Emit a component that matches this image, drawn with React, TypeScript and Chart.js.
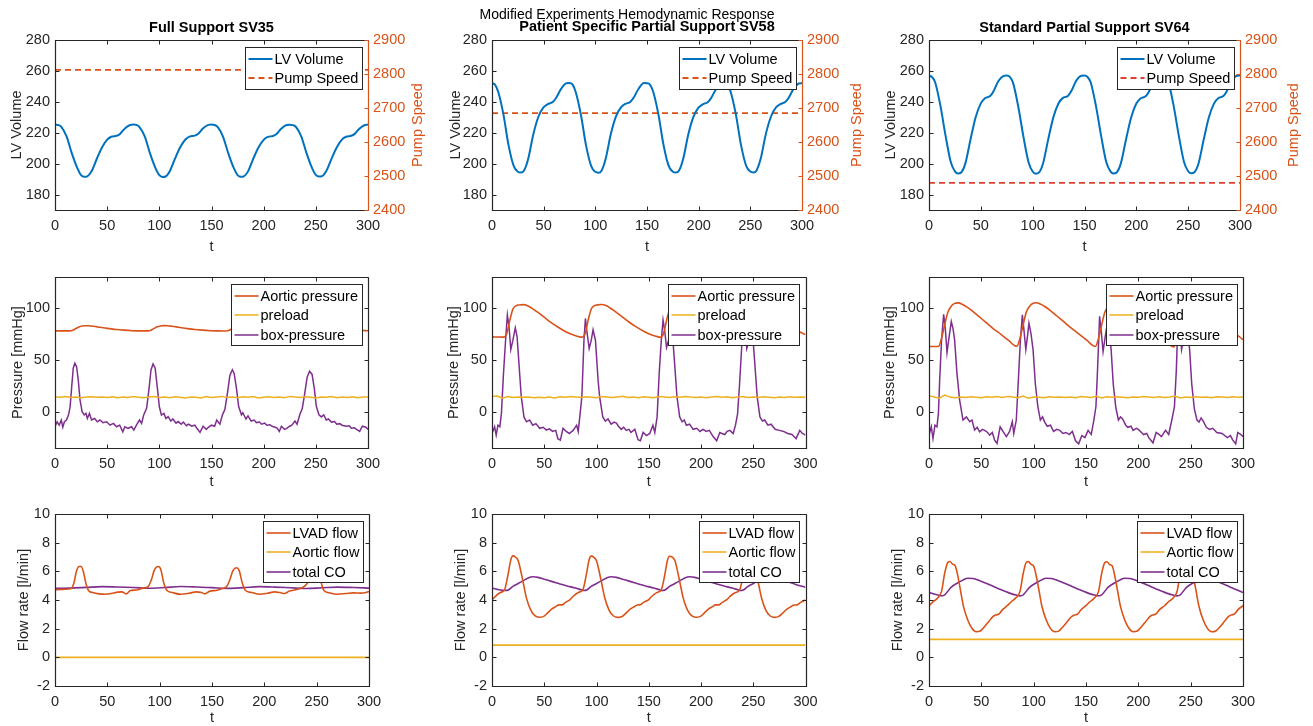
import React, { useEffect, useRef } from 'react';
import { Chart, registerables } from 'chart.js';

Chart.register(...registerables);

// ---------------- DATA ----------------
const X_TICKS = [0, 50, 100, 150, 200, 250, 300];
const LV_TICKS = [180, 200, 220, 240, 260, 280];
const PUMP_TICKS = [2400, 2500, 2600, 2700, 2800, 2900];
const PRESSURE_TICKS = [0, 50, 100];
const FLOW_TICKS = [-2, 0, 2, 4, 6, 8, 10];

const COLUMN_TITLES = ['Full Support SV35', 'Patient Specific Partial Support SV58', 'Standard Partial Support SV64'];
const SUPTITLE = 'Modified Experiments Hemodynamic Response';

// LV volume (shared time grid)
const T_LV = [
  0, 3, 6, 11, 16, 21, 25, 28, 31, 35, 40, 45, 50, 54, 59, 62, 67, 72,
  75, 78, 81, 86, 91, 96, 100, 103, 106, 110, 115, 120, 125, 129, 134, 137, 142, 147,
  150, 153, 156, 161, 166, 171, 175, 178, 181, 185, 190, 195, 200, 204, 209, 212, 217, 222,
  225, 228, 231, 236, 241, 246, 250, 253, 256, 260, 265, 270, 275, 279, 284, 287, 292, 297,
  300,
];
const LV_SV35 = [
  225.3, 225.0, 223.8, 217.8, 207.0, 197.8, 192.6, 191.5, 191.8, 195.0, 203.0, 210.5, 215.5, 217.4, 218.0, 219.0, 222.8, 225.0,
  225.4, 225.1, 223.7, 217.6, 206.8, 197.6, 192.5, 191.4, 191.7, 195.1, 203.2, 210.6, 215.6, 217.5, 218.1, 219.2, 222.9, 225.1,
  225.3, 225.0, 223.6, 217.5, 206.9, 197.7, 192.6, 191.5, 191.8, 195.0, 203.1, 210.4, 215.4, 217.3, 217.9, 219.0, 222.7, 225.0,
  225.2, 224.9, 223.7, 217.7, 207.0, 197.8, 192.7, 191.6, 191.9, 195.2, 203.1, 210.5, 215.5, 217.4, 218.0, 219.1, 222.8, 225.0,
  225.3,
];
const LV_SV58 = [
  252.0, 251.0, 246.5, 232.0, 212.0, 198.5, 194.8, 194.2, 195.5, 203.0, 219.0, 230.5, 236.5, 238.5, 240.0, 242.5, 248.5, 252.0,
  252.1, 251.1, 246.4, 231.8, 211.8, 198.4, 194.7, 194.1, 195.4, 203.1, 219.2, 230.6, 236.6, 238.6, 240.1, 242.6, 248.6, 252.1,
  252.0, 251.0, 246.5, 232.0, 212.1, 198.5, 194.8, 194.2, 195.5, 203.0, 219.0, 230.4, 236.4, 238.4, 239.9, 242.4, 248.4, 252.0,
  251.9, 250.9, 246.4, 231.9, 212.0, 198.6, 194.9, 194.3, 195.6, 203.1, 219.1, 230.5, 236.5, 238.5, 240.0, 242.5, 248.5, 251.9,
  252.1,
];
const LV_SV64 = [
  257.0, 256.0, 252.5, 237.5, 218.0, 201.0, 195.0, 193.6, 194.3, 200.0, 215.5, 230.0, 239.0, 242.3, 243.7, 246.5, 253.5, 256.8,
  257.1, 256.1, 252.4, 237.3, 217.8, 200.9, 194.9, 193.5, 194.2, 200.1, 215.7, 230.1, 239.1, 242.4, 243.8, 246.6, 253.6, 256.9,
  257.0, 256.0, 252.5, 237.5, 218.1, 201.0, 195.0, 193.6, 194.3, 200.0, 215.5, 229.9, 238.9, 242.2, 243.6, 246.4, 253.4, 256.8,
  256.9, 255.9, 252.4, 237.4, 218.0, 201.1, 195.1, 193.7, 194.4, 200.1, 215.6, 230.0, 239.0, 242.3, 243.7, 246.5, 253.5, 256.9,
  257.0,
];
const T_PUMP = [0, 300];
const PUMP_SV35 = [2812, 2812];
const PUMP_SV58 = [2685, 2685];
const PUMP_SV64 = [2480, 2480];

// Aortic pressure
const T_AO_SV35 = [
  0,
  14, 17, 20, 23, 26, 29, 33, 37, 41, 46, 52, 59, 66, 74, 81, 87,
  89, 92, 95, 98, 101, 104, 108, 112, 116, 121, 127, 134, 141, 149, 156, 162,
  164, 167, 170, 173, 176, 179, 183, 187, 191, 196, 202, 209, 216, 224, 231, 237,
  239, 242, 245, 248, 251, 254, 258, 262, 266, 271, 277, 284, 291, 299,
  300,
];
const AO_SV35 = [
  78.0,
  78.0, 78.6, 80.3, 81.8, 82.7, 83.0, 82.9, 82.4, 81.8, 81.0, 80.2, 79.3, 78.7, 78.2, 78.0, 78.0,
  78.0, 78.7, 80.4, 81.9, 82.8, 83.1, 83.0, 82.5, 81.9, 81.1, 80.2, 79.3, 78.7, 78.2, 78.0, 77.9,
  77.9, 78.6, 80.3, 81.8, 82.7, 83.0, 82.9, 82.4, 81.8, 81.0, 80.1, 79.2, 78.6, 78.1, 78.0, 78.0,
  78.0, 78.6, 80.3, 81.8, 82.7, 83.0, 82.9, 82.4, 81.8, 81.0, 80.2, 79.3, 78.7, 78.2,
  78.1,
];
const T_AO_SV58 = [
  0,
  11, 14, 17, 20, 23, 26, 30, 34, 38, 43, 49, 56, 63, 71, 78, 84,
  86, 89, 92, 95, 98, 101, 105, 109, 113, 118, 124, 131, 138, 146, 153, 159,
  161, 164, 167, 170, 173, 176, 180, 184, 188, 193, 199, 206, 213, 221, 228, 234,
  236, 239, 242, 245, 248, 251, 255, 259, 263, 268, 274, 281, 288, 296,
  300,
];
const AO_SV58 = [
  72.2,
  72.0, 75.0, 88.0, 99.0, 102.2, 103.0, 103.3, 102.3, 100.0, 96.5, 92.0, 86.5, 81.8, 77.0, 74.0, 72.2,
  72.0, 75.1, 88.2, 99.1, 102.3, 103.1, 103.4, 102.4, 100.1, 96.6, 92.1, 86.6, 81.9, 77.1, 74.0, 72.2,
  71.9, 74.9, 87.8, 98.9, 102.1, 102.9, 103.2, 102.2, 99.9, 96.4, 91.9, 86.4, 81.7, 76.9, 73.9, 72.1,
  72.0, 75.0, 88.0, 99.0, 102.2, 103.0, 103.3, 102.3, 100.0, 96.5, 92.0, 86.5, 81.0, 76.2,
  74.5,
];
const T_AO_SV64 = [
  0,
  9, 12, 15, 18, 21, 24, 28, 32, 36, 41, 47, 54, 61, 69, 76, 82,
  84, 87, 90, 93, 96, 99, 103, 107, 111, 116, 122, 129, 136, 144, 151, 157,
  159, 162, 165, 168, 171, 174, 178, 182, 186, 191, 197, 204, 211, 219, 226, 232,
  234, 237, 240, 243, 246, 249, 253, 257, 261, 266, 272, 279, 286, 294,
  300,
];
const AO_SV64 = [
  63.0,
  63.0, 71.0, 84.0, 96.0, 101.5, 104.3, 105.0, 103.5, 101.2, 97.5, 92.5, 86.5, 80.5, 74.5, 68.8, 63.6,
  63.2, 71.2, 84.2, 96.1, 101.6, 104.4, 105.1, 103.6, 101.3, 97.6, 92.6, 86.6, 80.6, 74.5, 68.8, 63.5,
  63.0, 71.0, 83.8, 95.9, 101.4, 104.2, 104.9, 103.4, 101.1, 97.4, 92.4, 86.4, 80.4, 74.3, 68.6, 63.2,
  62.6, 70.8, 83.9, 96.0, 101.5, 104.3, 105.0, 103.5, 101.2, 97.5, 92.5, 86.5, 80.5, 74.4,
  69.5,
];

// Preload (shared time grid)
const T_PRE = [
  0, 5, 10, 15, 20, 25, 30, 35, 40, 45, 50, 55, 60, 65, 70, 75, 80, 85, 90, 95,
  100, 105, 110, 115, 120, 125, 130, 135, 140, 145, 150, 155, 160, 165, 170, 175, 180, 185, 190, 195,
  200, 205, 210, 215, 220, 225, 230, 235, 240, 245, 250, 255, 260, 265, 270, 275, 280, 285, 290, 295,
  300,
];
const PRE_SV35 = [
  14.3, 13.9, 14.6, 13.8, 14.2, 13.6, 14.1, 14.5, 13.9, 14.2,
  13.7, 14.4, 13.5, 14.1, 13.8, 14.6, 14.0, 13.4, 14.3, 14.7,
  13.8, 14.2, 13.6, 14.5, 13.9, 13.3, 14.2, 14.0, 13.2, 14.6,
  13.8, 14.3, 14.8, 13.7, 14.1, 13.5, 14.4, 13.9, 14.6, 13.3,
  14.0, 14.5, 13.8, 14.2, 13.6, 14.8, 14.1, 13.7, 14.4, 13.9,
  13.3, 14.3, 14.0, 14.6, 13.5, 14.2, 13.8, 14.5, 13.6, 14.1,
  14.3,
];
const PRE_SV58 = [
  14.8, 15.2, 13.1, 14.6, 13.8, 14.3, 13.9, 14.1, 13.6, 14.0,
  13.5, 14.2, 13.2, 14.5, 13.9, 14.7, 14.2, 13.8, 14.4, 13.9,
  13.4, 14.6, 14.1, 13.7, 14.3, 14.9, 13.8, 14.2, 13.6, 14.4,
  14.0, 13.5, 14.6, 14.1, 13.7, 14.5, 14.0, 14.8, 14.2, 13.8,
  14.3, 13.6, 14.1, 14.7, 13.9, 14.4, 13.5, 14.2, 14.6, 13.8,
  14.1, 13.7, 14.5, 14.0, 13.6, 14.3, 13.8, 14.4, 13.9, 14.2,
  14.0,
];
const PRE_SV64 = [
  15.5, 14.2, 13.0, 16.0, 14.1, 13.6, 14.3, 13.8, 14.5, 14.0,
  13.4, 14.4, 13.9, 14.6, 13.7, 14.8, 14.2, 13.5, 15.2, 13.1,
  14.3, 14.0, 13.6, 14.5, 13.9, 14.3, 13.7, 14.1, 13.4, 14.6,
  14.2, 13.8, 15.0, 13.2, 14.4, 13.9, 14.5, 14.0, 13.6, 14.3,
  13.9, 14.6, 14.1, 13.7, 14.4, 13.8, 14.2, 15.1, 13.2, 14.3,
  13.8, 14.4, 13.9, 14.2, 13.6, 14.5, 14.1, 13.7, 14.4, 14.0,
  14.2,
];

// Box pressure [t, mmHg]
const BOX_SV35: [number, number][] = [
  [0, -14.5], [2, -9.7], [4, -13], [6, -8], [7.5, -15], [9, -9.7], [11, -8], [13, -3], [14.5, 4.8], [16, 24],
  [17.5, 42], [19, 46.8], [20.7, 43.5], [22.3, 30.6], [24, 11.3], [26, 0], [28, -3], [29.7, -1.6], [31, -6.5], [33, -1.6],
  [35, -8], [38, -6.5], [40.5, -9.7], [43, -8], [46, -10.6], [49.5, -9.7], [52.7, -13], [56, -11.3], [59, -14.5], [62, -13],
  [65, -19.4], [67, -14.5], [70, -16], [73.4, -14.5], [75.6, -17.7], [78, -13], [81, -8], [83, -11.3], [85, -3.2], [87.8, 3.2],
  [90, 21], [92, 40.3], [94, 46.1], [96, 42], [98, 24], [100, 4.8], [102, -3.2], [104.4, -1.6], [106.3, -6.5], [108.5, -4.8],
  [111, -9], [113, -7], [116, -11], [118, -9.5], [121, -12], [123, -10], [126, -13.5], [128, -12], [131, -14], [134, -13],
  [136, -16], [139, -20], [142, -14], [145, -17], [147, -15], [150, -13], [153, -14], [155, -8], [158, -12], [160.5, -3],
  [162.8, 2], [165.3, 18], [167.6, 35], [170, 40.5], [171.7, 37], [174, 22], [176, 5], [178.7, -3], [180, -1], [183, -7],
  [185, -4], [188, -9], [191, -8], [193, -10.5], [196, -10], [198, -12], [201, -11], [203, -13], [206, -12.5], [208, -14],
  [211, -15], [213, -16], [215, -19], [217, -14], [220, -17], [222, -16], [225, -14], [227, -13], [230, -9], [232, -12],
  [234.6, -3], [237, 3], [239.4, 18], [241.6, 33], [244, 39], [246.4, 36], [248.6, 22], [250.5, 5], [253, -3], [255.3, -5],
  [257.6, -3], [260, -8], [262, -7], [265, -10], [268, -9.5], [270, -12], [273, -11.5], [275, -13], [279, -14], [282, -13.5],
  [284, -16], [287, -15.5], [289, -17], [292, -19], [294.6, -14], [298, -15], [300, -17],
];
const BOX_SV58: [number, number][] = [
  [0, -21], [2.5, -14.5], [4, -22.6], [5.7, -13], [7.5, -14.5], [9, -1.6], [11, 37], [13, 69], [14.7, 93.5], [16.3, 82],
  [18, 60], [20, 69], [22.3, 81], [24, 72.6], [26, 43.5], [28, 14.5], [30.6, -5], [33, -9.7], [36, -8], [39, -13],
  [42, -11.5], [45.6, -16], [49, -15], [52, -17.7], [55, -16.5], [58, -19], [61, -18], [63, -26], [65.4, -27.4], [68, -16],
  [71, -19], [74, -21], [77.6, -18], [81, -13], [82.5, -19], [84, -5], [86, 14.5], [88, 69], [89.4, 90], [91, 76],
  [93, 61], [95, 69], [96.7, 79], [99, 69], [101.5, 30.6], [103, 14.5], [106, -5], [108.5, -9], [111, -7], [114, -12],
  [117, -10], [119, -11], [121, -14], [123.7, -17], [126, -15], [128.5, -18], [131, -17], [133, -20], [136.6, -17], [139.8, -27],
  [142, -28], [144.6, -20], [147.8, -23], [151, -21], [154, -13], [155.8, -20], [158, -5], [160, 37], [162, 69], [163.7, 88.5],
  [165.3, 78], [167, 62], [169, 69], [171.3, 80], [173, 71], [175, 43], [177, 14.5], [179.6, -5], [182, -9.7], [184, -8],
  [186, -13], [189, -12], [192.5, -17], [196, -16], [199, -19], [202, -17], [205, -19], [208, -18], [211.6, -24], [215, -28],
  [218, -20], [220, -21], [222.8, -22], [225, -19], [227.6, -18], [230.8, -21], [233, -13], [235, -2], [236.8, 25], [238.8, 60],
  [240.5, 92], [242.1, 80], [243.8, 61], [245.8, 68], [248.1, 79], [249.8, 70], [251.8, 42], [253.8, 14], [256.4, -5], [258.8, -9],
  [261, -8], [264, -13], [267, -12], [271, -17], [275, -18], [279, -19], [283, -21], [287, -22], [291, -26], [294.5, -18],
  [297, -21], [300, -22.6],
];
const BOX_SV64: [number, number][] = [
  [0, -22.6], [2.2, -14.5], [3.8, -25.8], [5.7, -13], [7.6, -14.5], [9, -1.6], [10.2, 30.6], [12, 69], [14, 94], [15.6, 80],
  [17.2, 57], [19.2, 72], [21.3, 87], [23, 80], [24.5, 69], [26.7, 37], [29.3, 11], [32.5, -8], [35.7, -5], [38.9, -9.7],
  [41, -8], [43.6, -17.7], [46, -15], [48.4, -19.4], [51, -17], [53.2, -18], [56, -20], [58, -22.6], [60.5, -20], [62.7, -27.4],
  [65, -30.6], [68, -14.5], [70.7, -19], [73.9, -24], [77, -19], [79.6, -9.7], [81, -21], [83.4, -8], [85.7, 37], [87.3, 69],
  [89.2, 93.5], [90.8, 78], [92.5, 60], [94, 72], [95.5, 85.5], [97.5, 75], [99.4, 60], [101.6, 27], [104, 4.8], [106.4, -8],
  [108.5, -5], [110.5, -10], [113, -14], [116, -13], [119, -19], [122, -17], [125, -18], [128, -21], [131, -20], [134, -22],
  [137, -19], [140, -28], [143, -31], [146, -23], [149, -25], [152, -18], [155, -22], [157.5, -8], [159.5, 5], [161, 40],
  [163, 92], [164.8, 75], [166.3, 58], [168.3, 72], [170.5, 86], [172.5, 74], [174, 60], [176, 27], [178.5, 4], [181, -8],
  [183, -5], [185, -7], [188, -13], [190, -15], [193, -14], [195, -18], [198, -16], [200, -17], [203, -20], [205, -22],
  [208, -21], [210, -25], [214, -30], [217, -20], [220, -22], [222, -24], [226, -18], [229, -22], [232, -8], [234.5, 5],
  [236.3, 40], [238, 92], [239.8, 75], [241.3, 60], [243.3, 72], [245.5, 85], [247.5, 74], [249, 60], [251, 27], [253.5, 3],
  [256, -8], [258, -10], [260, -6], [262, -9], [265, -15], [268, -17], [271, -16], [275, -20], [280, -21], [285, -25],
  [288, -23], [290, -27], [293, -31], [295, -20], [298, -22], [300, -24],
];

// Flow rates
const LVAD_SV35: [number, number][] = [
  [0, 4.72], [5, 4.73], [10, 4.75], [15, 4.78], [18, 5.17], [20.5, 6.0], [23, 6.34], [25, 6.34], [27, 6.0], [29.5, 5.17],
  [32, 4.66], [36, 4.52], [42, 4.43], [48, 4.4], [55, 4.47], [60, 4.55], [64, 4.57], [68, 4.43], [72, 4.66], [78, 4.7],
  [84, 4.83], [89, 4.94], [92, 5.4], [95, 6.1], [98.5, 6.34], [101, 6.15], [104, 5.17], [107, 4.66], [112, 4.52], [120, 4.4],
  [128, 4.47], [135, 4.57], [140, 4.52], [143, 4.43], [148, 4.62], [155, 4.68], [160, 4.8], [164, 4.94], [167, 5.4], [170, 6.05],
  [173.5, 6.25], [176, 6.05], [179, 5.17], [182, 4.66], [188, 4.52], [195, 4.4], [203, 4.47], [210, 4.57], [215, 4.52], [219, 4.45],
  [224, 4.62], [230, 4.72], [236, 4.85], [240, 5.06], [243, 5.45], [246, 6.0], [249, 6.25], [252, 6.0], [254.5, 5.17], [257, 4.66],
  [262, 4.5], [270, 4.4], [278, 4.45], [285, 4.5], [292, 4.48], [297, 4.52], [300, 4.6],
];
const CO_SV35: [number, number][] = [
  [0, 4.82], [15, 4.83], [30, 4.88], [45, 4.93], [60, 4.91], [75, 4.87], [90, 4.82], [105, 4.87], [120, 4.94], [135, 4.91],
  [150, 4.86], [165, 4.81], [180, 4.86], [195, 4.93], [210, 4.9], [225, 4.85], [240, 4.8], [255, 4.85], [270, 4.9], [285, 4.87],
  [300, 4.83],
];
const T_FLOW = [
  0, 3, 8, 12, 15, 18, 20, 22.5, 25, 27, 30, 33, 37, 41, 45, 49, 53, 57, 61, 64, 67, 70,
  75, 78, 83, 87, 90, 93, 95, 97.5, 100, 102, 105, 108, 112, 116, 120, 124, 128, 132, 136, 139, 142, 145,
  150, 153, 158, 162, 165, 168, 170, 172.5, 175, 177, 180, 183, 187, 191, 195, 199, 203, 207, 211, 214, 217, 220,
  225, 228, 233, 237, 240, 243, 245, 247.5, 250, 252, 255, 258, 262, 266, 270, 274, 278, 282, 286, 289, 292, 295,
  300,
];
const LVAD_SV58 = [
  4.00, 4.24, 4.52, 4.70, 5.64, 6.80, 7.08, 7.00, 6.76, 6.20, 5.17, 4.13, 3.31, 2.91, 2.80, 2.84, 3.08, 3.36, 3.54, 3.66, 3.66, 3.82,
  4.05, 4.28, 4.54, 4.72, 5.66, 6.82, 7.06, 6.98, 6.74, 6.18, 5.15, 4.12, 3.30, 2.90, 2.79, 2.83, 3.07, 3.35, 3.53, 3.65, 3.67, 3.83,
  4.03, 4.26, 4.53, 4.71, 5.62, 6.79, 7.05, 6.99, 6.75, 6.19, 5.16, 4.13, 3.31, 2.91, 2.80, 2.84, 3.08, 3.36, 3.54, 3.66, 3.66, 3.82,
  4.04, 4.27, 4.52, 4.70, 5.60, 6.75, 7.02, 6.96, 6.73, 6.18, 5.15, 4.12, 3.30, 2.90, 2.79, 2.84, 3.07, 3.35, 3.53, 3.65, 3.66, 3.82,
  4.00,
];
const LVAD_SV64 = [
  3.59, 3.82, 4.13, 4.60, 5.87, 6.62, 6.69, 6.50, 6.39, 5.87, 4.71, 3.54, 2.61, 2.03, 1.79, 1.84, 2.14, 2.49, 2.84, 2.96, 3.03, 3.31,
  3.62, 3.84, 4.15, 4.61, 5.85, 6.63, 6.68, 6.49, 6.37, 5.85, 4.70, 3.53, 2.60, 2.02, 1.78, 1.83, 2.13, 2.48, 2.83, 2.95, 3.02, 3.30,
  3.61, 3.83, 4.14, 4.60, 5.86, 6.61, 6.67, 6.48, 6.38, 5.86, 4.71, 3.54, 2.61, 2.03, 1.79, 1.84, 2.14, 2.49, 2.84, 2.96, 3.03, 3.31,
  3.60, 3.82, 4.13, 4.59, 5.84, 6.60, 6.66, 6.48, 6.37, 5.85, 4.70, 3.53, 2.60, 2.02, 1.78, 1.84, 2.13, 2.48, 2.84, 2.96, 3.03, 3.31,
  3.60,
];
const CO_SV58: [number, number][] = [
  [0, 4.83], [5, 4.74], [10, 4.67], [13, 4.66], [16, 4.72], [20, 4.95], [25, 5.15], [30, 5.35], [35, 5.55], [39, 5.62],
  [44, 5.58], [50, 5.45], [57, 5.3], [65, 5.12], [72, 4.98], [80, 4.83], [86, 4.7], [88, 4.66], [91, 4.72], [95, 4.95],
  [100, 5.15], [105, 5.35], [110, 5.55], [114, 5.62], [119, 5.58], [125, 5.45], [132, 5.3], [140, 5.12], [147, 4.98], [155, 4.83],
  [161, 4.7], [163, 4.66], [166, 4.72], [170, 4.95], [175, 5.15], [180, 5.35], [185, 5.55], [189, 5.62], [194, 5.58], [200, 5.45],
  [207, 5.3], [215, 5.12], [222, 4.98], [230, 4.83], [236, 4.7], [238, 4.66], [241, 4.72], [245, 4.95], [250, 5.15], [255, 5.35],
  [260, 5.55], [264, 5.62], [269, 5.58], [275, 5.45], [282, 5.3], [290, 5.1], [300, 4.88],
];
const CO_SV64: [number, number][] = [
  [0, 4.52], [5, 4.42], [10, 4.32], [12, 4.29], [15, 4.36], [21, 4.88], [28, 5.22], [33, 5.42], [37, 5.52], [42, 5.5],
  [48, 5.36], [58, 5.06], [67, 4.77], [77, 4.48], [84, 4.33], [87, 4.29], [90, 4.36], [96, 4.88], [103, 5.22], [108, 5.42],
  [112, 5.52], [117, 5.5], [123, 5.36], [133, 5.06], [142, 4.77], [152, 4.48], [159, 4.33], [162, 4.29], [165, 4.36], [171, 4.88],
  [178, 5.22], [183, 5.42], [187, 5.52], [192, 5.5], [198, 5.36], [208, 5.06], [217, 4.77], [227, 4.48], [234, 4.33], [237, 4.29],
  [240, 4.36], [246, 4.88], [253, 5.22], [258, 5.42], [262, 5.52], [267, 5.5], [273, 5.36], [283, 5.06], [292, 4.77], [300, 4.52],
];
const T_AORTIC_FLOW = [0, 300];
const AORTIC_FLOW_SV35 = [0, 0];
const AORTIC_FLOW_SV58 = [0.85, 0.85];
const AORTIC_FLOW_SV64 = [1.25, 1.25];

// ---------------- STYLE / LAYOUT ----------------
const FIG_W = 1313;
const FIG_H = 726;
const FONT = '"Liberation Sans", Arial, Helvetica, sans-serif';
const FS = 14.5;
const INK = '#262626';
const C_BLUE = '#0072BD';
const C_ORANGE = '#D95319';
const C_RED = '#E0412F';
const C_YELLOW = '#EDB120';
const C_PURPLE = '#7E2F8E';
const Y_BAND = 60;
const X_BAND = 40;
const TICK_LEN = 4;

type Pt = [number, number];
interface SeriesDef {
  label: string;
  pts: Pt[];
  color: string;
  width: number;
  dash?: number[];
  axis?: string;
  smooth: boolean;
}
interface Y2Def { min: number; max: number; ticks: number[]; title: string; titleX: number; color: string; }
interface PanelDef {
  box: [number, number, number, number];
  title?: string;
  titleY?: number;
  suptitle?: boolean;
  yMin: number;
  yMax: number;
  yTicks: number[];
  yTitle: string;
  yTitleX: number;
  xTitleY: number;
  y2?: Y2Def;
  series: SeriesDef[];
}

const zip = (t: number[], v: number[]): Pt[] => t.map((x, i) => [x, v[i]] as Pt);

const ROW_TB: [number, number][] = [[40, 210], [277, 448], [514, 686]];
const COL_LR: [number, number][][] = [
  [[55, 368], [492, 802], [929, 1240]],
  [[55, 368], [492, 805.5], [929, 1243]],
  [[55, 369], [492, 805.5], [929, 1243]],
];
const X_TITLE_Y = [247, 482, 718];
const Y_TITLE_X = [[17, 456, 891], [18, 454, 890], [24, 461, 898]];
const Y2_TITLE_X = [418, 857, 1294];
const TITLE_Y = [28, 27, 28];

function box(r: number, c: number): [number, number, number, number] {
  return [COL_LR[r][c][0], ROW_TB[r][0], COL_LR[r][c][1], ROW_TB[r][1]];
}

const LV_SETS = [LV_SV35, LV_SV58, LV_SV64];
const PUMP_SETS = [PUMP_SV35, PUMP_SV58, PUMP_SV64];
const PUMP_COLORS = [C_ORANGE, C_ORANGE, C_RED];
const AO_SETS: [number[], number[]][] = [[T_AO_SV35, AO_SV35], [T_AO_SV58, AO_SV58], [T_AO_SV64, AO_SV64]];
const PRE_SETS = [PRE_SV35, PRE_SV58, PRE_SV64];
const BOX_SETS = [BOX_SV35, BOX_SV58, BOX_SV64];
const LVAD_SETS: Pt[][] = [LVAD_SV35, zip(T_FLOW, LVAD_SV58), zip(T_FLOW, LVAD_SV64)];
const CO_SETS = [CO_SV35, CO_SV58, CO_SV64];
const AF_SETS = [AORTIC_FLOW_SV35, AORTIC_FLOW_SV58, AORTIC_FLOW_SV64];

const PANELS: PanelDef[] = [];
for (let c = 0; c < 3; c++) {
  PANELS.push({
    box: box(0, c),
    title: COLUMN_TITLES[c],
    titleY: TITLE_Y[c],
    suptitle: c === 1,
    yMin: 170, yMax: 280, yTicks: LV_TICKS,
    yTitle: 'LV Volume', yTitleX: Y_TITLE_X[0][c], xTitleY: X_TITLE_Y[0],
    y2: { min: 2400, max: 2900, ticks: PUMP_TICKS, title: 'Pump Speed', titleX: Y2_TITLE_X[c], color: C_ORANGE },
    series: [
      { label: 'LV Volume', pts: zip(T_LV, LV_SETS[c]), color: C_BLUE, width: 2, smooth: true },
      { label: 'Pump Speed', pts: zip(T_PUMP, PUMP_SETS[c]), color: PUMP_COLORS[c], width: 1.8, dash: [6, 4], axis: 'y2', smooth: false },
    ],
  });
}
for (let c = 0; c < 3; c++) {
  PANELS.push({
    box: box(1, c),
    yMin: -35, yMax: 130, yTicks: PRESSURE_TICKS,
    yTitle: 'Pressure [mmHg]', yTitleX: Y_TITLE_X[1][c], xTitleY: X_TITLE_Y[1],
    series: [
      { label: 'Aortic pressure', pts: zip(AO_SETS[c][0], AO_SETS[c][1]), color: C_ORANGE, width: 1.6, smooth: true },
      { label: 'preload', pts: zip(T_PRE, PRE_SETS[c]), color: C_YELLOW, width: 1.5, smooth: false },
      { label: 'box-pressure', pts: BOX_SETS[c], color: C_PURPLE, width: 1.5, smooth: false },
    ],
  });
}
for (let c = 0; c < 3; c++) {
  PANELS.push({
    box: box(2, c),
    yMin: -2, yMax: 10, yTicks: FLOW_TICKS,
    yTitle: 'Flow rate [l/min]', yTitleX: Y_TITLE_X[2][c], xTitleY: X_TITLE_Y[2],
    series: [
      { label: 'LVAD flow', pts: LVAD_SETS[c], color: C_ORANGE, width: 1.6, smooth: true },
      { label: 'Aortic flow', pts: zip(T_AORTIC_FLOW, AF_SETS[c]), color: C_YELLOW, width: 1.6, smooth: false },
      { label: 'total CO', pts: CO_SETS[c], color: C_PURPLE, width: 1.6, smooth: true },
    ],
  });
}

// ---------------- DRAWING ----------------
const px = (v: number) => Math.round(v) + 0.5;

function decorPlugin(p: PanelDef) {
  return {
    id: 'decor',
    afterDatasetsDraw(chart: any) {
      const ctx: CanvasRenderingContext2D = chart.ctx;
      const a = chart.chartArea;
      const L = px(a.left), R = px(a.right), T = px(a.top), B = px(a.bottom);
      const xs = chart.scales.x, ys = chart.scales.y, y2 = chart.scales.y2;
      ctx.save();
      ctx.setLineDash([]);
      ctx.lineWidth = 1;
      // tick marks (inward)
      ctx.strokeStyle = INK;
      ctx.beginPath();
      for (const tk of xs.ticks) {
        const x = px(xs.getPixelForValue(tk.value));
        ctx.moveTo(x, B); ctx.lineTo(x, B - TICK_LEN);
        ctx.moveTo(x, T); ctx.lineTo(x, T + TICK_LEN);
      }
      for (const tk of ys.ticks) {
        const y = px(ys.getPixelForValue(tk.value));
        ctx.moveTo(L, y); ctx.lineTo(L + TICK_LEN, y);
        if (!y2) { ctx.moveTo(R, y); ctx.lineTo(R - TICK_LEN, y); }
      }
      ctx.stroke();
      // frame
      ctx.lineWidth = 1.2;
      ctx.beginPath();
      ctx.moveTo(R, T); ctx.lineTo(L, T); ctx.lineTo(L, B); ctx.lineTo(R, B);
      if (!y2) ctx.lineTo(R, T);
      ctx.stroke();
      if (y2 && p.y2) {
        ctx.strokeStyle = p.y2.color;
        ctx.beginPath();
        ctx.moveTo(R, T); ctx.lineTo(R, B);
        ctx.stroke();
        ctx.lineWidth = 1;
        ctx.beginPath();
        for (const tk of y2.ticks) {
          const y = px(y2.getPixelForValue(tk.value));
          ctx.moveTo(R, y); ctx.lineTo(R - TICK_LEN, y);
        }
        ctx.stroke();
      }
      ctx.lineWidth = 1;
      // legend
      ctx.font = `${FS}px ${FONT}`;
      const entries = p.series.filter((s) => s.label);
      const tw = Math.max(...entries.map((e) => ctx.measureText(e.label).width));
      const w = Math.round(29 + tw + 4);
      const h = Math.round(entries.length * 19.3 + 3);
      const x0 = px(a.right - 6.5 - w);
      const y0 = px(a.top + 6.5);
      ctx.fillStyle = '#ffffff';
      ctx.fillRect(x0, y0, w, h);
      ctx.strokeStyle = INK;
      ctx.strokeRect(x0, y0, w, h);
      entries.forEach((e, i) => {
        const cy = Math.round(y0 + 11.5 + i * 19.3);
        ctx.strokeStyle = e.color;
        ctx.lineWidth = e.width;
        ctx.setLineDash(e.dash || []);
        ctx.beginPath();
        ctx.moveTo(x0 + 3, cy); ctx.lineTo(x0 + 27, cy);
        ctx.stroke();
        ctx.setLineDash([]);
        ctx.fillStyle = '#000000';
        ctx.textAlign = 'left';
        ctx.textBaseline = 'middle';
        ctx.fillText(e.label, x0 + 29, cy + 0.5);
      });
      // axis titles
      ctx.fillStyle = INK;
      ctx.font = `${FS}px ${FONT}`;
      ctx.textAlign = 'center';
      ctx.textBaseline = 'middle';
      ctx.fillText('t', (a.left + a.right) / 2, p.xTitleY);
      const cyMid = (a.top + a.bottom) / 2;
      ctx.save();
      ctx.translate(p.yTitleX, cyMid);
      ctx.rotate(-Math.PI / 2);
      ctx.fillText(p.yTitle, 0, 0);
      ctx.restore();
      if (p.y2) {
        ctx.save();
        ctx.fillStyle = p.y2.color;
        ctx.translate(p.y2.titleX, cyMid);
        ctx.rotate(-Math.PI / 2);
        ctx.fillText(p.y2.title, 0, 0);
        ctx.restore();
      }
      if (p.title) {
        ctx.fillStyle = '#000000';
        ctx.font = `bold ${FS}px ${FONT}`;
        ctx.fillText(p.title, (a.left + a.right) / 2, p.titleY || 28);
      }
      if (p.suptitle) {
        ctx.fillStyle = '#000000';
        ctx.font = `14px ${FONT}`;
        ctx.fillText(SUPTITLE, 627, 15);
      }
      ctx.restore();
    },
  };
}

function buildConfig(p: PanelDef): any {
  const [L, T, R, B] = p.box;
  const tickFont = { family: FONT, size: FS };
  const fmt = (v: any) => String(v);
  const scales: any = {
    x: {
      type: 'linear', min: 0, max: 300,
      afterBuildTicks: (s: any) => { s.ticks = X_TICKS.map((v) => ({ value: v })); },
      ticks: { font: tickFont, color: INK, padding: 7.5, maxRotation: 0, autoSkip: false, callback: fmt },
      grid: { display: false, drawTicks: false },
      border: { display: false },
      afterFit: (s: any) => { s.height = X_BAND; },
    },
    y: {
      type: 'linear', position: 'left', min: p.yMin, max: p.yMax,
      afterBuildTicks: (s: any) => { s.ticks = p.yTicks.map((v) => ({ value: v })); },
      ticks: { font: tickFont, color: INK, padding: 5, autoSkip: false, callback: fmt },
      grid: { display: false, drawTicks: false },
      border: { display: false },
      afterFit: (s: any) => { s.width = Y_BAND; },
    },
  };
  if (p.y2) {
    const y2 = p.y2;
    scales.y2 = {
      type: 'linear', position: 'right', min: y2.min, max: y2.max,
      afterBuildTicks: (s: any) => { s.ticks = y2.ticks.map((v) => ({ value: v })); },
      ticks: { font: tickFont, color: y2.color, padding: 5, autoSkip: false, callback: fmt },
      grid: { display: false, drawTicks: false },
      border: { display: false },
      afterFit: (s: any) => { s.width = Y_BAND; },
    };
  }
  return {
    type: 'line',
    data: {
      datasets: p.series.map((s) => ({
        label: s.label,
        data: s.pts.map(([x, y]) => ({ x, y })),
        borderColor: s.color,
        backgroundColor: s.color,
        borderWidth: s.width,
        borderDash: s.dash || [],
        pointRadius: 0,
        fill: false,
        yAxisID: s.axis || 'y',
        tension: 0,
        cubicInterpolationMode: s.smooth ? 'monotone' : 'default',
      })),
    },
    options: {
      animation: false,
      responsive: false,
      devicePixelRatio: 1,
      events: [],
      layout: {
        padding: {
          left: L - Y_BAND,
          top: T,
          right: FIG_W - R - (p.y2 ? Y_BAND : 0),
          bottom: FIG_H - B - X_BAND,
        },
      },
      plugins: { legend: { display: false }, tooltip: { enabled: false }, title: { display: false } },
      scales,
    },
    plugins: [decorPlugin(p)],
  };
}

function Panel({ def }: { def: PanelDef }) {
  const ref = useRef<HTMLCanvasElement | null>(null);
  useEffect(() => {
    if (!ref.current) return;
    const chart = new Chart(ref.current, buildConfig(def));
    return () => chart.destroy();
  }, [def]);
  return (
    <canvas
      ref={ref}
      width={FIG_W}
      height={FIG_H}
      style={{ position: 'absolute', left: 0, top: 0, width: FIG_W, height: FIG_H }}
    />
  );
}

export default function App() {
  return (
    <div style={{ position: 'absolute', left: 0, top: 0, width: FIG_W, height: FIG_H, background: '#ffffff', overflow: 'hidden' }}>
      {PANELS.map((p, i) => (
        <Panel key={i} def={p} />
      ))}
    </div>
  );
}
